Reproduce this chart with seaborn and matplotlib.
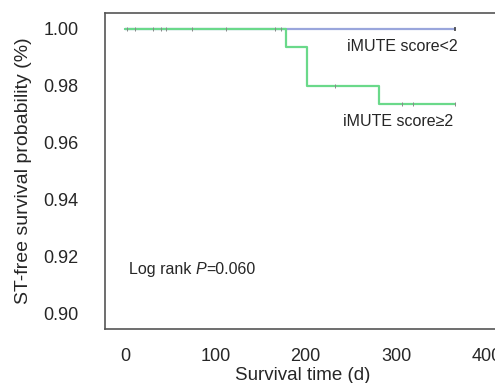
import matplotlib
matplotlib.use("Agg")
import matplotlib.pyplot as plt
import seaborn as sns
import pandas as pd

# Kaplan-Meier step data
low_time = [0, 365]
low_surv = [1.0, 1.0]
high_time = [0, 178, 201, 281, 365]
high_surv = [1.0, 0.9936, 0.980, 0.9737, 0.9737]

# censor marks
low_cens_t = [365]
low_cens_s = [1.0]
high_cens_t = [2, 11, 31, 40, 46, 74, 112, 166, 173, 233, 307, 319, 365]
high_cens_s = [1.0, 1.0, 1.0, 1.0, 1.0, 1.0, 1.0, 1.0, 1.0, 0.980, 0.9737, 0.9737, 0.9737]

xticks = [0, 100, 200, 300, 400]
yticks = [0.90, 0.92, 0.94, 0.96, 0.98, 1.00]

sns.set_style("white")
plt.rcParams['font.family'] = ['Liberation Sans', 'DejaVu Sans']

fig = plt.figure(figsize=(4.95, 3.83), dpi=100)
ax = fig.add_axes([105/495, 54/383, 395/495, 316/383])

df_low = pd.DataFrame({"t": low_time, "s": low_surv})
df_high = pd.DataFrame({"t": high_time, "s": high_surv})
sns.lineplot(data=df_low, x="t", y="s", ax=ax, color="#9aa6dc", lw=1.6,
             drawstyle="steps-post", estimator=None, sort=False)
sns.lineplot(data=df_high, x="t", y="s", ax=ax, color="#6ad98a", lw=1.6,
             drawstyle="steps-post", estimator=None, sort=False)
ax.scatter(high_cens_t, high_cens_s, marker="|", s=6, color="#888888", lw=0.7, zorder=3)
ax.scatter(low_cens_t, low_cens_s, marker="|", s=10, color="#444444", lw=1.2, zorder=3)

ax.set_xlim(-22, 415)
ax.set_ylim(0.8945, 1.0056)
ax.set_xticks(xticks)
ax.set_xticklabels([str(v) for v in xticks])
ax.set_yticks(yticks)
ax.set_yticklabels([f"{v:.2f}" for v in yticks])
ax.tick_params(axis="both", direction="out", length=5, width=1, color="#444444",
               labelsize=13)
ax.tick_params(axis="y", pad=14)
ax.tick_params(axis="x", pad=9)
for side in ["left", "bottom", "top"]:
    ax.spines[side].set_color("#555555")
    ax.spines[side].set_linewidth(1.2)
ax.spines["right"].set_visible(False)

ax.set_xlabel("Survival time (d)", fontsize=13.5, labelpad=1)
ax.set_ylabel("ST-free survival probability (%)", fontsize=14, labelpad=8)

fs = 11.5
ax.text(368, 0.9937, "iMUTE score<2", ha="right", va="center", fontsize=fs)
ax.text(363, 0.9673, "iMUTE score≥2", ha="right", va="center", fontsize=fs)
t1 = ax.text(4, 0.9155, "Log rank ", ha="left", va="center", fontsize=fs)
fig.canvas.draw()
bb = t1.get_window_extent()
x1 = ax.transData.inverted().transform((bb.x1, 0))[0]
t2 = ax.text(x1, 0.9155, "P", ha="left", va="center", fontsize=fs, style="italic")
fig.canvas.draw()
bb2 = t2.get_window_extent()
x2 = ax.transData.inverted().transform((bb2.x1, 0))[0]
ax.text(x2, 0.9155, "=0.060", ha="left", va="center", fontsize=fs)

fig.savefig("out.png", dpi=100)
